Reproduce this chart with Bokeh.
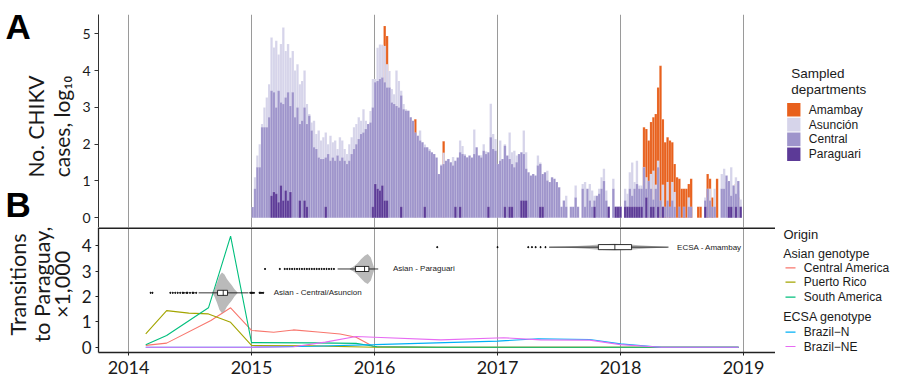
import numpy as np
from bokeh.plotting import figure
from bokeh.models import Range1d, FixedTicker, Label, Span
from bokeh.layouts import row, column
from bokeh.embed import file_html
from bokeh.resources import INLINE
from bokeh.core.properties import value

# ---------------- data ----------------
YEAR_TICKS = [2014, 2015, 2016, 2017, 2018, 2019]
A_TICKS = [0, 1, 2, 3, 4, 5]
B_TICKS = [0, 1, 2, 3, 4]

DEPARTMENTS = ["Amambay", "Asunción", "Central", "Paraguari"]
DEPT_COLORS = ["#E8601C", "#D6D4EA", "#9E94CB", "#5C3A97"]

FIRST_WEEK = 2015.0  # first weekly bar (decimal year)

# log10 weekly cases, Central department
CEN15 = [0.29,0.79,1.37,1.37,2.46,2.46,2.46,2.73,3.45,3.41,3.0,3.45,3.13,3.09,3.27,3.41,3.04,3.41,2.73,3.0,
         2.55,2.64,3.0,2.55,2.77,2.37,1.92,1.87,1.64,1.6,1.6,1.64,1.73,1.55,1.64,1.55,1.69,1.55,1.64,1.55,
         1.46,1.55,1.73,1.87,2.0,2.14,2.28,2.32,2.41,2.55,2.59,3.0]
CEN16 = [3.68,3.72,3.77,3.81,3.68,3.54,3.54,3.13,3.09,3.04,3.0,3.32,2.95,2.91,2.91,2.73,2.64,2.32,2.23,2.1,
         2.05,1.92,1.92,1.82,1.78,1.73,1.64,1.19,1.42,1.46,1.55,1.6,1.51,1.42,1.55,1.64,1.78,1.73,1.69,1.64,
         1.69,1.64,1.73,1.92,1.69,1.64,1.82,1.73,1.78,2.19,1.87,1.82]
CEN17 = [1.46,1.55,1.6,1.96,1.69,1.6,1.46,1.37,1.51,1.73,1.78,1.73,1.33,1.24,1.15,1.19,1.15,1.42,1.46,1.19,
         1.24,1.01,0.97,1.1,1.06,0.97,0.83,0.3,0.47,0.3,0,0.3,0.3,0.55,0.3,0,0.79,0.3,0.79,0.47,
         0.3,0.47,0.6,0.65,0.79,1.0,0.47,0.3,0,0.79,0.3,0.3]
CEN18 = [0.3,0,0.47,0.3,0.79,0.6,0.79,0.92,0.79,0.79,1.37,0.79,1.0,0.79,0.5,0.79,1.37,0.47,0.3,0.3,
         0.47,0.3,0.47,0.3,0,0.3,0,0.3,0,0.3,0.3,0,0,0,0,0,0.47,0.79,0.47,0.3,
         0.3,0,0,0.79,0.79,1.15,1.0,0.6,0.88,0.65,1.0,0.3]
# log10 weekly cases, Asunción
ASU15 = [0,1.1,1.69,2.0,2.55,3.0,3.27,3.63,4.9,4.63,4.81,4.44,4.72,5.17,4.53,4.72,4.35,4.53,4.0,4.17,
         3.63,3.72,4.0,3.09,2.82,2.59,2.64,2.28,2.37,2.1,2.19,2.32,2.0,2.23,2.05,2.1,1.87,2.19,2.1,1.87,
         1.73,2.0,2.19,2.46,2.55,2.73,2.64,2.95,2.64,2.46,2.9,3.77]
ASU16 = [3.77,4.62,4.71,4.7,4.67,4.17,3.99,3.5,3.36,4.0,3.72,3.45,3.09,2.95,2.91,2.73,2.6,2.3,2.23,2.37,
         2.05,1.99,1.9,1.87,1.7,1.65,1.2,1.19,1.45,1.77,1.5,1.6,1.5,1.65,1.5,1.5,2.1,1.95,1.73,1.65,
         1.6,1.6,2.4,1.7,1.69,1.7,2.0,1.8,1.7,3.1,2.28,2.14]
ASU17 = [0,2.1,0,2.0,0,2.32,1.78,1.82,1.69,0,0,2.37,1.78,0,0,0,0,1.69,1.5,0,
         0,1.28,0,0,0,0,0,0,0,0.6,0,0,0,0.88,0,0,0.92,0.97,0,0.92,
         0.74,0.6,0,0.79,1.1,1.33,0.74,0,0,1.06,0,0]
ASU18 = [0,0,0.79,0.65,1.24,1.5,0.97,1.55,0.88,0.88,1.37,1.1,1.0,1.19,1.28,0.9,1.55,0,0.9,0,
         0.97,0,0.97,0.7,0,0,0,0,0,0.55,0,0,0,0,0,0,0.55,0,0.79,0,
         0.79,0,0,1.19,1.33,0.97,0.83,1.37,0.88,1.1,0.74,0.5]
# sparse series: week index from FIRST_WEEK, log10 cases
AMB_WEEK = [56,57,69,81,
            166,167,168,169,170,171,172,173,174,175,176,177,178,179,180,181,182,183,184,185,186,
            189,190,193,194,195,197,205,206]
AMB_VAL = [5.21,4.94,2.68,2.08,
           2.46,2.41,2.1,2.6,2.73,2.82,3.54,4.13,2.68,2.05,2.19,2.1,2.05,1.46,1.1,1.06,0.79,
           0.79,0.79,0.92,1.06,
           0.3,0.3,1.19,1.06,0.55,1.06,0.92,0.55]
PAR_WEEK = [8,9,10,11,12,13,14,15,16,20,22,23,31,51,
            52,53,54,55,56,57,63,73,86,88,100,
            107,109,110,114,115,116,122,123,145,151,154,155,
            156,158,159,160,161,162,163,164,165,167,169,170,172,174,192,202,203,205,207]
PAR_VAL = [0.6,0.7,0.65,0.42,0.88,0.47,0.74,0.47,0.7,0.47,0.47,0.3,0.3,0.3,
           0.92,0.79,0.74,0.88,0.47,0.47,0.3,0.3,0.3,0.3,0.3,
           0.3,0.3,0.3,0.47,0.47,0.47,0.3,0.3,0.3,0.3,0.3,0.3,
           0.3,0.3,0.3,0.3,0.3,0.3,0.3,0.3,0.3,0.55,0.3,0.3,0.3,0.3,0.3,0.3,0.3,0.3,0.3]

# Panel B: transitions to Paraguay (x1,000)
ORIGINS = ["Central America", "Puerto Rico", "South America", "Brazil\u2212N", "Brazil\u2212NE"]
ORIGIN_COLORS = ["#F8766D", "#A3A500", "#00BF7D", "#00B0F6", "#E76BF3"]
CA_T = [2014.14, 2014.31, 2014.67, 2014.83, 2015.0, 2015.18, 2015.34, 2015.54, 2015.72, 2015.85, 2015.99, 2016.5, 2017.0, 2017.5, 2018.0, 2018.5, 2018.96]
CA_V = [0.07, 0.16, 1.05, 1.55, 0.66, 0.59, 0.68, 0.6, 0.52, 0.39, 0.03, 0.0, 0.0, 0.0, 0.0, 0.0, 0.0]
PR_T = [2014.14, 2014.31, 2014.49, 2014.65, 2014.83, 2015.0, 2015.5, 2016.0, 2016.5, 2017.0, 2017.5, 2018.0, 2018.5, 2018.96]
PR_V = [0.52, 1.44, 1.34, 1.31, 0.98, 0.07, 0.05, 0.0, 0.0, 0.0, 0.0, 0.0, 0.0, 0.0]
SA_T = [2014.14, 2014.31, 2014.65, 2014.83, 2015.0, 2015.5, 2015.85, 2016.02, 2016.5, 2017.0, 2017.5, 2018.0, 2018.5, 2018.96]
SA_V = [0.1, 0.46, 1.55, 4.37, 0.18, 0.17, 0.15, 0.02, 0.0, 0.0, 0.0, 0.0, 0.0, 0.0]
BN_T = [2014.14, 2015.0, 2015.5, 2016.0, 2016.5, 2017.0, 2017.33, 2017.75, 2018.0, 2018.33, 2018.96]
BN_V = [0.0, 0.0, 0.04, 0.1, 0.17, 0.24, 0.33, 0.3, 0.13, 0.0, 0.0]
BNE_T = [2014.14, 2015.0, 2015.34, 2015.6, 2015.85, 2016.0, 2016.54, 2017.05, 2017.35, 2017.75, 2018.0, 2018.33, 2018.96]
BNE_V = [0.0, 0.0, 0.02, 0.2, 0.42, 0.39, 0.29, 0.37, 0.29, 0.28, 0.1, 0.0, 0.0]
ORIGIN_T = [CA_T, PR_T, SA_T, BN_T, BNE_T]
ORIGIN_V = [CA_V, PR_V, SA_V, BN_V, BNE_V]

# introduction-date violins (decimal year) and their box summaries
VIOLIN_NAMES = ["Asian - Central/Asuncion", "Asian - Paraguari", "ECSA - Amambay"]
VIOLIN_Y = [2.14, 3.08, 3.94]
V1_X = [2014.68, 2014.70, 2014.72, 2014.74, 2014.76, 2014.78, 2014.80, 2014.82, 2014.84, 2014.86, 2014.885]
V1_W = [0.02, 0.15, 0.4, 0.68, 0.8, 0.72, 0.55, 0.42, 0.3, 0.15, 0.02]
V2_X = [2015.80, 2015.83, 2015.86, 2015.89, 2015.92, 2015.945, 2015.97, 2015.99, 2016.0]
V2_W = [0.02, 0.1, 0.22, 0.38, 0.52, 0.59, 0.45, 0.15, 0.02]
V3_X = [2017.42, 2017.55, 2017.65, 2017.75, 2017.85, 2017.95, 2018.05, 2018.15, 2018.25, 2018.38]
V3_W = [0.01, 0.02, 0.04, 0.07, 0.11, 0.13, 0.11, 0.07, 0.04, 0.01]
VIOLIN_X = [V1_X, V2_X, V3_X]
VIOLIN_W = [V1_W, V2_W, V3_W]
BOX_Q1 = [2014.724, 2015.846, 2017.82]
BOX_MED = [2014.77, 2015.919, 2017.954]
BOX_Q3 = [2014.805, 2015.954, 2018.09]
WHISK_LO = [2014.57, 2015.70, 2017.42]
WHISK_HI = [2014.975, 2016.03, 2018.39]
OUT1 = [2014.18, 2014.195, 2014.34, 2014.36, 2014.38, 2014.40, 2014.42, 2014.44, 2014.45, 2014.47,
        2014.48, 2014.50, 2014.52, 2014.53, 2014.55, 2014.99, 2015.0, 2015.01, 2015.02, 2015.065,
        2015.075, 2015.085, 2015.095]
OUT2 = [2015.11, 2015.23, 2015.27, 2015.29, 2015.31, 2015.33, 2015.35, 2015.37, 2015.39, 2015.41,
        2015.43, 2015.45, 2015.47, 2015.49, 2015.51, 2015.53, 2015.55, 2015.57, 2015.59, 2015.61,
        2015.63, 2015.65, 2015.67]
OUT3 = [2016.51, 2017.0, 2017.25, 2017.28, 2017.31, 2017.35, 2017.39]
OUTLIERS = [OUT1, OUT2, OUT3]
LABEL_X = [2015.18, 2016.15, 2018.46]

# ---------------- styles ----------------
AX_FONT = "Lato"
LEG_FONT = "Liberation Sans"
DARK = "#1a1a1a"
GRID = "#9a9a9a"
WEEK = 7 / 365.25
X0, X1 = 2013.756, 2019.26
TITLE_W = 78
MAIN_W = 697
LEG_W = 125
A_H = 227
B_H = 163


def blank(width, height):
    f = figure(width=width, height=height, x_range=Range1d(0, width), y_range=Range1d(height, 0),
               output_backend="svg", toolbar_location=None, min_border=0,
               x_axis_location=None, y_axis_location=None)
    f.grid.visible = False
    f.outline_line_color = None
    return f


# ---------------- panel A ----------------
pA = figure(width=MAIN_W, height=A_H, x_range=Range1d(X0, X1), y_range=Range1d(-0.264, 5.524),
            output_backend="svg", toolbar_location=None,
            min_border_left=20, min_border_right=0, min_border_top=14, min_border_bottom=0)
pA.xaxis.visible = False
pA.outline_line_color = None
pA.xgrid.ticker = FixedTicker(ticks=YEAR_TICKS)
pA.xgrid.grid_line_color = GRID
pA.ygrid.visible = False
pA.yaxis.ticker = FixedTicker(ticks=A_TICKS)
pA.yaxis.major_label_text_font = AX_FONT
pA.yaxis.major_label_text_font_size = "14px"
pA.yaxis.major_label_text_color = DARK
pA.yaxis.axis_line_color = "#333333"
pA.yaxis.major_tick_line_color = "#333333"
pA.yaxis.major_tick_out = 4
pA.yaxis.major_tick_in = 0
pA.yaxis.minor_tick_line_color = None
pA.yaxis.major_label_standoff = 4


def weekly_x(idx):
    return FIRST_WEEK + (np.asarray(idx, dtype=float) + 0.5) * WEEK


def draw_bars(p, idx, vals, color):
    vals = np.asarray(vals, dtype=float)
    xs = weekly_x(idx)
    m = vals > 0
    p.vbar(x=xs[m], top=vals[m], bottom=0, width=WEEK, fill_color=color,
           line_color="white", line_alpha=0.3, line_width=0.4)


central = CEN15 + CEN16 + CEN17 + CEN18
asuncion = ASU15 + ASU16 + ASU17 + ASU18
draw_bars(pA, AMB_WEEK, AMB_VAL, DEPT_COLORS[0])
draw_bars(pA, range(len(asuncion)), asuncion, DEPT_COLORS[1])
draw_bars(pA, range(len(central)), central, DEPT_COLORS[2])
draw_bars(pA, PAR_WEEK, PAR_VAL, DEPT_COLORS[3])

# ---------------- panel B ----------------
pB = figure(width=MAIN_W, height=B_H, x_range=pA.x_range, y_range=Range1d(-0.209, 4.713),
            output_backend="svg", toolbar_location=None,
            min_border_left=20, min_border_right=0, min_border_top=0, min_border_bottom=38)
pB.outline_line_color = None
pB.xgrid.ticker = FixedTicker(ticks=YEAR_TICKS)
pB.xgrid.grid_line_color = GRID
pB.ygrid.visible = False
for ax, ticks in [(pB.xaxis, YEAR_TICKS), (pB.yaxis, B_TICKS)]:
    ax.ticker = FixedTicker(ticks=ticks)
    ax.major_label_text_font = AX_FONT
    ax.major_label_text_font_size = "17px"
    ax.major_label_text_color = DARK
    ax.axis_line_color = "#222222"
    ax.axis_line_width = 1.3
    ax.major_tick_line_color = "#222222"
    ax.major_tick_out = 3
    ax.major_tick_in = 0
    ax.minor_tick_line_color = None
pB.xaxis.major_label_text_font_size = "18px"
pB.xaxis.major_label_standoff = 5
pB.yaxis.major_label_standoff = 4
pB.add_layout(Span(location=4.69, dimension="width", line_color="#222222", line_width=2))

for t, v, c in zip(ORIGIN_T, ORIGIN_V, ORIGIN_COLORS):
    pB.line(t, v, line_color=c, line_width=1.1)

for vx, vw, vy, q1, med, q3, lo, hi, outs, name, lx in zip(
        VIOLIN_X, VIOLIN_W, VIOLIN_Y, BOX_Q1, BOX_MED, BOX_Q3, WHISK_LO, WHISK_HI,
        OUTLIERS, VIOLIN_NAMES, LABEL_X):
    px = list(vx) + list(vx[::-1])
    py = [vy + w for w in vw] + [vy - w for w in vw[::-1]]
    pB.patch(px, py, fill_color="#9c9c9c", fill_alpha=0.7, line_color=None)
    pB.segment(x0=[lo], y0=[vy], x1=[hi], y1=[vy], line_color="black", line_width=0.8)
    pB.quad(left=[q1], right=[q3], bottom=[vy - 0.1], top=[vy + 0.1],
            fill_color="white", line_color="black", line_width=0.8)
    pB.segment(x0=[med], y0=[vy - 0.1], x1=[med], y1=[vy + 0.1], line_color="black", line_width=0.8)
    pB.scatter(outs, [vy] * len(outs), marker="circle", size=1.2, color="black")
    pB.add_layout(Label(x=lx, y=vy, text=name, text_font=LEG_FONT, text_font_size="8px",
                        text_baseline="middle", text_color=DARK))

# ---------------- axis titles and panel letters ----------------
tA = blank(TITLE_W, A_H)
tA.text(x=[5, 5], y=[25.5, 203.5], text=["A", "B"], text_font=value(LEG_FONT), text_font_style="bold",
        text_font_size="35px", text_baseline="middle", text_color="black")
tA.text(x=[35, 61], y=[126, 126], text=["No. CHIKV", "cases, log\u2081\u2080"], angle=np.pi / 2,
        text_align="center", text_baseline="middle", text_font=value(AX_FONT),
        text_font_size="21px", text_color=DARK)

tB = blank(TITLE_W, B_H)
tB.text(x=[17.4, 41.4, 61.7], y=[57, 57, 57], text=["Transitions", "to Paraguay,", "\u00d71,000"],
        angle=np.pi / 2, text_align="center", text_baseline="middle", text_font=value(AX_FONT),
        text_font_size="21.5px", text_color=DARK)

# ---------------- legends ----------------
lA = blank(LEG_W, A_H)
lA.text(x=[15.7, 15.7], y=[73.3, 89.3], text=["Sampled", "departments"],
        text_font=value(LEG_FONT), text_font_size="13.5px", text_baseline="middle", text_color=DARK)
key_y = [109.3, 124.1, 138.9, 153.7]
lA.rect(x=[18.3] * 4, y=key_y, width=13.3, height=13.6, fill_color=DEPT_COLORS, line_color=None)
lA.text(x=[33.3] * 4, y=key_y, text=DEPARTMENTS, text_font=value(LEG_FONT),
        text_font_size="12px", text_baseline="middle", text_color=DARK)

lB = blank(LEG_W, B_H)
lB.text(x=[8], y=[6.5], text=["Origin"], text_font=value(LEG_FONT), text_font_size="13px",
        text_baseline="middle", text_color=DARK)
lB.text(x=[7.7, 7.7], y=[26.3, 89.0], text=["Asian genotype", "ECSA genotype"],
        text_font=value(LEG_FONT), text_font_size="12.5px", text_baseline="middle", text_color=DARK)
item_y = [40.3, 54.7, 69.7, 104.7, 119.0]
lB.segment(x0=[10] * 5, y0=item_y, x1=[20] * 5, y1=item_y, line_color=ORIGIN_COLORS, line_width=1.2)
lB.text(x=[28.3] * 5, y=item_y, text=ORIGINS, text_font=value(LEG_FONT), text_font_size="12px",
        text_baseline="middle", text_color=DARK)

layout = row(column(tA, tB), column(pA, pB), column(lA, lB))
open("out.html", "w").write(file_html(layout, INLINE))
